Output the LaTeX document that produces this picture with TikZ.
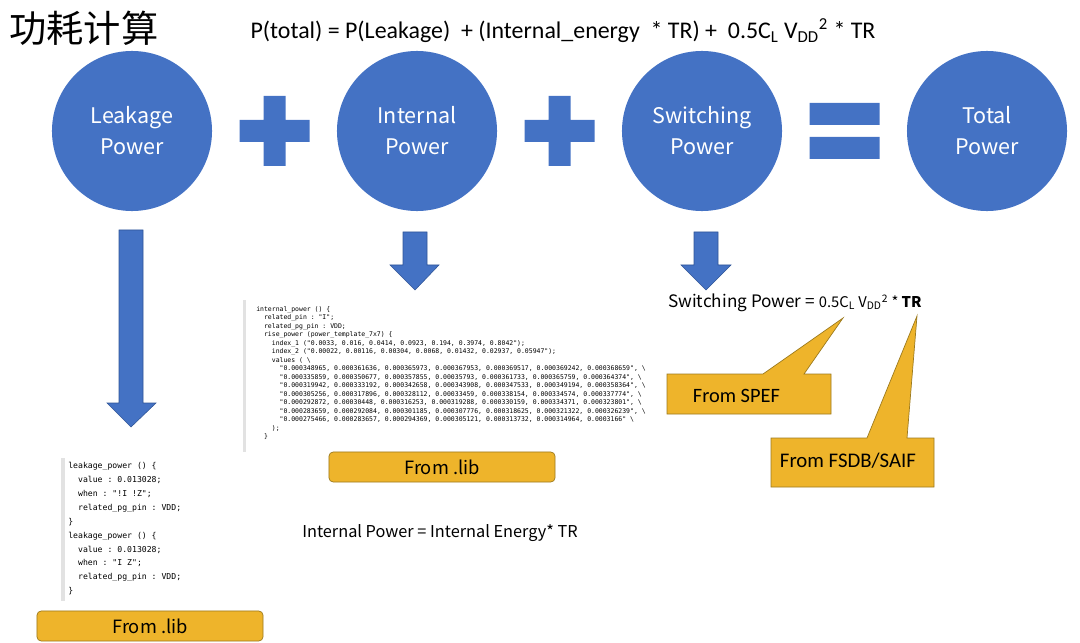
\documentclass[tikz,border=0pt]{standalone}
\usepackage{fontspec}
\setmainfont{Carlito}
\setmonofont{DejaVu Sans Mono}
\newfontfamily\cjk{Noto Sans CJK SC}
\usetikzlibrary{calc}
\definecolor{ppblue}{HTML}{4472C4}
\definecolor{ppedge}{HTML}{2F5597}
\definecolor{libgold}{HTML}{EEB42B}
\definecolor{goldedge}{HTML}{9C7A1E}
\definecolor{barGray}{HTML}{E2E2E2}
\newcommand{\ci}[1]{\hspace*{#1\fontcharwd\font`x}}

\begin{document}
\begin{tikzpicture}[x=0.025cm, y=-0.025cm,
  bubble/.style={circle, fill=ppblue, minimum size=4cm, inner sep=0pt,
    text=white, align=center, font=\cjk\fontsize{15.3}{22}\selectfont},
  blockarr/.style={fill=ppblue, draw=ppedge, line width=0.4pt},
  libbox/.style={rounded corners=3pt, fill=libgold, draw=goldedge, line width=0.5pt,
    minimum width=5.65cm, minimum height=0.75cm, font=\cjk\fontsize{13}{14}\selectfont},
  callout/.style={fill=libgold, draw=goldedge, line width=0.5pt},
  code/.style={inner sep=0pt, align=left, anchor=north west}
]
\useasboundingbox (0,0) rectangle (1080,643);

% title and formula
\node[anchor=west, inner sep=0pt, font=\cjk\fontsize{26.5}{28}\selectfont] (title) at (9,28) {功耗计算};
\node[inner sep=0pt, font=\fontsize{17}{20}\selectfont] (ptotal) at (563,31)
  {P(total) = P(Leakage)~ + (Internal\_energy~~* TR) +~ 0.5C\textsubscript{L} V\textsubscript{DD}\textsuperscript{2} * TR};

% the four bubbles
\node[bubble] (leak) at (132,131) {Leakage\\Power};
\node[bubble] (intl) at (417,131) {Internal\\Power};
\node[bubble] (sw)   at (702,131) {Switching\\Power};
\node[bubble] (tot)  at (987,131) {Total\\Power};

% plus and equals signs
\coordinate (p1) at ($(leak)!0.5!(intl)$);
\coordinate (p2) at ($(intl)!0.5!(sw)$);
\coordinate (eq) at ($(sw)!0.5!(tot)$);
\fill[ppblue] (p1) ++(-35,-11) rectangle ++(70,22) (p1) ++(-11,-35) rectangle ++(22,70);
\fill[ppblue] (p2) ++(-35,-11) rectangle ++(70,22) (p2) ++(-11,-35) rectangle ++(22,70);
\fill[ppblue] (eq) ++(-35,-28) rectangle ++(70,22) (eq) ++(-35,6) rectangle ++(70,22);

% block arrows
\draw[blockarr] (119,230) -- (143,230) -- (143,403) -- (156,403) -- (131,427)
  -- (107,403) -- (119,403) -- cycle;
\draw[blockarr] (403,232) -- (427,232) -- (427,265) -- (439,265) -- (415,290)
  -- (390,265) -- (403,265) -- cycle;
\draw[blockarr] (694,232) -- (718,232) -- (718,265) -- (731,265) -- (706,290)
  -- (681,265) -- (694,265) -- cycle;

% liberty snippets
\fill[barGray] (243,300) rectangle (246,452);
\node[code, font=\ttfamily\fontsize{4.6}{6.05}\selectfont] (intcode) at (256,306) {%
internal\_power () \{\\
\ci{2}related\_pin : "I";\\
\ci{2}related\_pg\_pin : VDD;\\
\ci{2}rise\_power (power\_template\_7x7) \{\\
\ci{4}index\_1 ("0.0033, 0.016, 0.0414, 0.0923, 0.194, 0.3974, 0.8042");\\
\ci{4}index\_2 ("0.00022, 0.00116, 0.00304, 0.0068, 0.01432, 0.02937, 0.05947");\\
\ci{4}values ( \textbackslash\\
\ci{6}"0.000348965, 0.000361636, 0.000365973, 0.000367953, 0.000369517, 0.000369242, 0.000368659", \textbackslash\\
\ci{6}"0.000335859, 0.000350677, 0.000357855, 0.00035793, 0.000361733, 0.000365759, 0.000364374", \textbackslash\\
\ci{6}"0.000319942, 0.000333192, 0.000342658, 0.000343908, 0.000347533, 0.000349194, 0.000358364", \textbackslash\\
\ci{6}"0.000305256, 0.000317896, 0.000328112, 0.00033459, 0.000338154, 0.000334574, 0.000337774", \textbackslash\\
\ci{6}"0.000292872, 0.00030448, 0.000316253, 0.000319288, 0.000330159, 0.000334371, 0.000323801", \textbackslash\\
\ci{6}"0.000283659, 0.000292084, 0.000301185, 0.000307776, 0.000318625, 0.000321322, 0.000326239", \textbackslash\\
\ci{6}"0.000275466, 0.000283657, 0.000294369, 0.000305121, 0.000313732, 0.000314964, 0.0003166" \textbackslash\\
\ci{4});\\
\ci{2}\}};

\fill[barGray] (61,458) rectangle (65,601);
\node[code, font=\ttfamily\fontsize{5.8}{9.9}\selectfont] (leakcode) at (68,462) {%
leakage\_power () \{\\
\ci{2}value : 0.013028;\\
\ci{2}when : "!I !Z";\\
\ci{2}related\_pg\_pin : VDD;\\
\}\\
leakage\_power () \{\\
\ci{2}value : 0.013028;\\
\ci{2}when : "I Z";\\
\ci{2}related\_pg\_pin : VDD;\\
\}};

% sources
\node[libbox] (liblk) at (150,626) {From .lib};
\node[libbox] (libint) at (442,467) {From .lib};
\node[font=\cjk\fontsize{11.6}{14}\selectfont] (inteq) at (440,533)
  {Internal Power = Internal Energy* TR};

\node[anchor=west, inner sep=0pt, font=\cjk\fontsize{12.2}{14}\selectfont] (sweq) at (668,303)
  {Switching Power = {\fontsize{10.5}{13}\selectfont 0.5C\textsubscript{L} V\textsubscript{DD}\textsuperscript{2} * \textbf{TR}}};

\draw[callout] (667,374) -- (763,374) -- (843,318) -- (804,374) -- (831,374)
  -- (831,414) -- (667,414) -- cycle;
\node[anchor=west, font=\fontsize{14.5}{16}\selectfont] (spef) at (688,396) {From SPEF};
\draw[callout] (771,438) -- (867,438) -- (917,316) -- (907,438) -- (934,438)
  -- (934,487) -- (771,487) -- cycle;
\node[anchor=west, font=\fontsize{14.8}{16}\selectfont] (fsdb) at (775,461) {From FSDB/SAIF};
\end{tikzpicture}
\end{document}
